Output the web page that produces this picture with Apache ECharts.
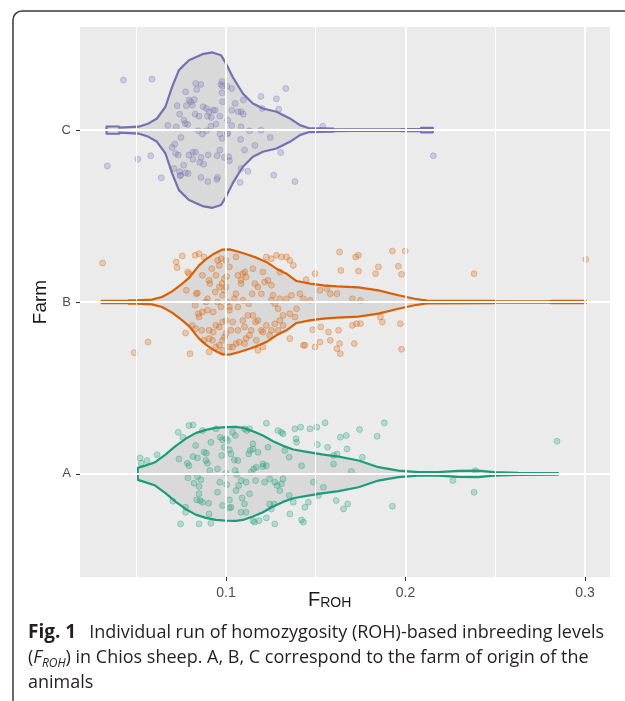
<!DOCTYPE html>
<html>
<head>
<meta charset="utf-8">
<script src="https://cdn.jsdelivr.net/npm/echarts@6/dist/echarts.min.js"></script>
<style>
  html, body { margin: 0; padding: 0; background: #fff; }
  #chart { width: 625px; height: 701px; }
</style>
</head>
<body>
<div id="chart"></div>
<script>
// farms on the y axis (A = 1, B = 2, C = 3)
const farms = ["A", "B", "C"];
const farmColors = ["#1B9E77", "#D95F02", "#7570B3"];
const xTicks = [0.1, 0.2, 0.3];
const xMinorTicks = [0.05, 0.15, 0.25];

// violin outlines: F_ROH value and half width (in farm units)
const aOutlineFroh = [0.0509, 0.0550, 0.0606, 0.0663, 0.0719, 0.0775, 0.0831, 0.0888, 0.0944, 0.1000, 0.1056, 0.1094, 0.1150, 0.1206, 0.1262, 0.1318, 0.1375, 0.1450, 0.1543, 0.1627, 0.1738, 0.1849, 0.1960, 0.2071, 0.2182, 0.2293, 0.2404, 0.2493, 0.2627, 0.2849];
const aOutlineHalf = [0.035, 0.048, 0.068, 0.112, 0.161, 0.204, 0.237, 0.256, 0.268, 0.272, 0.273, 0.268, 0.248, 0.223, 0.190, 0.163, 0.142, 0.128, 0.112, 0.100, 0.078, 0.039, 0.019, 0.010, 0.010, 0.017, 0.019, 0.010, 0.006, 0.005];

const bOutlineFroh = [0.0307, 0.0457, 0.0458, 0.0504, 0.0588, 0.0644, 0.0700, 0.0757, 0.0794, 0.0850, 0.0888, 0.0934, 0.0981, 0.1019, 0.1075, 0.1131, 0.1169, 0.1225, 0.1281, 0.1337, 0.1393, 0.1468, 0.1543, 0.1618, 0.1738, 0.1849, 0.1960, 0.2050, 0.2120, 0.2500, 0.2510, 0.2800, 0.2810, 0.3004];
const bOutlineHalf = [0.006, 0.006, 0.010, 0.010, 0.014, 0.029, 0.062, 0.107, 0.140, 0.213, 0.248, 0.281, 0.305, 0.306, 0.291, 0.272, 0.258, 0.233, 0.194, 0.165, 0.122, 0.107, 0.097, 0.091, 0.085, 0.068, 0.039, 0.019, 0.008, 0.006, 0.004, 0.004, 0.006, 0.006];

const cOutlineFroh = [0.0335, 0.0405, 0.0406, 0.0513, 0.0569, 0.0616, 0.0663, 0.0700, 0.0738, 0.0794, 0.0869, 0.0925, 0.0972, 0.1000, 0.1037, 0.1094, 0.1150, 0.1206, 0.1281, 0.1356, 0.1412, 0.1459, 0.1599, 0.1600, 0.1712, 0.1713, 0.1974, 0.1975, 0.2086, 0.2087, 0.2152];
const cOutlineHalf = [0.021, 0.021, 0.014, 0.020, 0.039, 0.068, 0.136, 0.252, 0.349, 0.407, 0.442, 0.452, 0.436, 0.388, 0.310, 0.213, 0.155, 0.126, 0.107, 0.068, 0.029, 0.012, 0.009, 0.006, 0.005, 0.004, 0.004, 0.006, 0.006, 0.013, 0.013];

// jittered animals: [F_ROH, vertical jitter]
const farmAPoints = [
  [0.0522, 0.093], [0.0528, 0.062], [0.0560, 0.078], [0.0616, 0.111], [0.0704, -0.159], [0.0734, 0.242], [0.0760, 0.213],
  [0.0738, 0.087], [0.0775, -0.194], [0.0775, -0.223], [0.0747, -0.291], [0.0785, 0.062], [0.0794, 0.048], [0.0794, 0.281],
  [0.0816, 0.285], [0.0816, 0.101], [0.0831, 0.165], [0.0841, 0.093], [0.0788, -0.023], [0.0822, -0.054], [0.0841, -0.016],
  [0.0850, -0.074], [0.0860, -0.035], [0.0850, -0.116], [0.0837, -0.151], [0.0856, -0.155], [0.0869, -0.165], [0.0878, 0.126],
  [0.0891, 0.120], [0.0888, 0.078], [0.0897, 0.062], [0.0869, 0.252], [0.0910, 0.019], [0.0906, -0.233], [0.0916, -0.287],
  [0.0850, -0.291], [0.0903, -0.171], [0.0916, 0.184], [0.0944, 0.262], [0.0953, 0.029], [0.0953, -0.107], [0.0966, -0.048],
  [0.0968, 0.213], [0.0976, 0.107], [0.0981, 0.198], [0.0991, 0.155], [0.1000, 0.204], [0.1009, 0.194], [0.1019, 0.140],
  [0.1037, 0.242], [0.1052, 0.223], [0.1028, 0.116], [0.1047, 0.081], [0.1066, 0.078], [0.1060, -0.004], [0.1004, -0.062],
  [0.1019, -0.151], [0.0981, -0.184], [0.1019, -0.198], [0.1028, -0.194], [0.1056, -0.097], [0.1071, -0.068], [0.1084, -0.039],
  [0.1112, -0.048], [0.1131, -0.116], [0.1090, -0.140], [0.1103, -0.175], [0.1084, -0.223], [0.1112, -0.223], [0.1116, 0.252],
  [0.1131, 0.262], [0.1135, 0.136], [0.1127, 0.116], [0.1150, 0.175], [0.1150, 0.145], [0.1140, 0.010], [0.1154, 0.029],
  [0.1169, 0.039], [0.1206, 0.043], [0.1225, 0.048], [0.1234, 0.155], [0.1165, -0.039], [0.1215, -0.048], [0.1243, -0.029],
  [0.1272, -0.048], [0.1285, -0.068], [0.1309, -0.058], [0.1318, -0.029], [0.1300, -0.097], [0.1253, -0.204], [0.1243, -0.175],
  [0.1150, -0.272], [0.1159, -0.281], [0.1184, -0.272], [0.1225, -0.256], [0.1272, -0.291], [0.1356, -0.233], [0.1375, -0.165],
  [0.1352, -0.126], [0.1318, 0.233], [0.1328, 0.136], [0.1384, 0.262], [0.1416, 0.272], [0.1390, 0.204], [0.1393, 0.184],
  [0.1352, 0.097], [0.1421, 0.048], [0.1468, 0.262], [0.1506, 0.272], [0.1552, 0.297], [0.1509, 0.171], [0.1566, 0.155],
  [0.1599, 0.107], [0.1618, 0.116], [0.1637, 0.213], [0.1670, 0.223], [0.1674, 0.145], [0.1599, 0.058], [0.1543, -0.078],
  [0.1487, -0.048], [0.1459, -0.165], [0.1440, -0.194], [0.1515, -0.126], [0.1614, -0.155], [0.1655, -0.204], [0.1678, -0.175],
  [0.1421, -0.268], [0.1431, -0.281], [0.1268, -0.175], [0.1225, 0.295], [0.1290, 0.252], [0.1309, 0.242], [0.1103, 0.262],
  [0.1178, 0.126], [0.1206, 0.058], [0.1051, 0.019], [0.1000, 0.004],
  [0.1744, 0.258], [0.1842, 0.219], [0.1882, 0.297], [0.1927, -0.188], [0.1760, 0.097], [0.1698, 0.014], [0.2264, -0.039],
  [0.2382, -0.107], [0.2844, 0.190], [0.2389, 0.019]
];

const farmBPoints = [
  [0.0313, 0.227], [0.0489, -0.295], [0.0566, -0.233], [0.0723, 0.233], [0.0728, 0.200], [0.0757, 0.268], [0.0794, 0.165],
  [0.0787, 0.175], [0.0779, 0.068], [0.0775, -0.180], [0.0800, -0.301], [0.0828, 0.272], [0.0850, 0.281], [0.0878, 0.262],
  [0.0869, 0.155], [0.0841, 0.052], [0.0835, 0.048], [0.0828, -0.019], [0.0846, -0.068], [0.0865, -0.165], [0.0869, -0.058],
  [0.0888, 0.000], [0.0897, 0.019], [0.0878, -0.223], [0.0906, 0.126], [0.0910, 0.107], [0.0921, 0.194], [0.0953, 0.242],
  [0.0963, 0.213], [0.0972, 0.252], [0.0940, 0.058], [0.0953, 0.000], [0.0978, 0.107], [0.0981, 0.039], [0.0991, 0.068],
  [0.1000, 0.087], [0.1004, 0.149], [0.1000, 0.242], [0.1019, 0.204], [0.1056, 0.262], [0.1066, 0.155], [0.1084, 0.126],
  [0.1094, 0.165], [0.1105, 0.175], [0.1112, 0.145], [0.1084, 0.107], [0.1056, 0.048], [0.1009, 0.000], [0.1019, -0.048],
  [0.1047, 0.019], [0.1066, -0.029], [0.1094, 0.010], [0.1127, -0.010], [0.1146, 0.048], [0.1150, 0.194], [0.1161, 0.107],
  [0.1178, 0.087], [0.1197, 0.048], [0.1215, 0.116], [0.1234, 0.126], [0.1206, 0.175], [0.1225, 0.262], [0.1253, 0.252],
  [0.1281, 0.272], [0.1309, 0.262], [0.1337, 0.262], [0.1356, 0.242], [0.1375, 0.213], [0.1300, 0.175], [0.1253, 0.097],
  [0.1262, 0.039], [0.1253, 0.010], [0.1272, -0.010], [0.1300, 0.019], [0.1337, 0.019], [0.1365, 0.039], [0.1412, 0.048],
  [0.1431, 0.019], [0.1468, 0.010], [0.1496, 0.165], [0.1446, 0.130], [0.1524, 0.068], [0.1562, 0.078], [0.1581, 0.048],
  [0.1618, 0.048], [0.1633, 0.291], [0.1640, 0.184], [0.1393, -0.039], [0.1356, -0.068], [0.1318, -0.078], [0.1300, -0.107],
  [0.1272, -0.126], [0.1253, -0.165], [0.1206, -0.175], [0.1178, -0.107], [0.1165, -0.116], [0.1150, -0.078], [0.1122, -0.078],
  [0.1094, -0.107], [0.1066, -0.165], [0.1037, -0.116], [0.1028, -0.165], [0.1000, -0.107], [0.0981, -0.116], [0.0963, -0.145],
  [0.0944, -0.136], [0.0929, -0.175], [0.0906, -0.165], [0.0906, -0.213], [0.0925, -0.223], [0.0944, -0.262], [0.0963, -0.252],
  [0.0981, -0.223], [0.0991, -0.204], [0.1000, -0.184], [0.1037, -0.262], [0.1075, -0.233], [0.1103, -0.242], [0.1112, -0.213],
  [0.1131, -0.194], [0.1169, -0.223], [0.1178, -0.281], [0.1206, -0.262], [0.1243, -0.194], [0.1290, -0.165], [0.1318, -0.136],
  [0.1356, -0.213], [0.1384, -0.087], [0.1440, -0.252], [0.1431, -0.252], [0.1483, -0.161], [0.1496, -0.262], [0.1524, -0.233],
  [0.1528, -0.145], [0.1571, -0.175], [0.1581, -0.223], [0.1618, -0.272], [0.1627, -0.165], [0.1637, -0.301], [0.1633, -0.242],
  [0.0906, -0.291], [0.0981, -0.281], [0.1019, -0.262], [0.1056, -0.242], [0.0831, -0.155], [0.0813, -0.136], [0.0850, -0.087],
  [0.1103, -0.145], [0.1140, -0.165], [0.1197, -0.165], [0.1225, -0.136], [0.1290, -0.039], [0.0897, -0.048], [0.0929, -0.058],
  [0.0972, -0.029], [0.1019, -0.029], [0.0944, 0.155], [0.0991, 0.136], [0.0963, 0.087],
  [0.1722, 0.262], [0.1738, 0.272], [0.1738, 0.180], [0.1833, 0.165], [0.1849, 0.204], [0.1927, 0.297], [0.1960, 0.208],
  [0.1978, 0.161], [0.1998, 0.297], [0.2382, 0.165], [0.3004, 0.248], [0.1704, 0.019], [0.1749, 0.010], [0.1727, -0.126],
  [0.1749, -0.126], [0.1860, -0.087], [0.1871, -0.116], [0.1971, -0.126], [0.1978, -0.275], [0.1715, -0.242], [0.1704, -0.136]
];

const farmCPoints = [
  [0.0429, 0.291], [0.0588, 0.297], [0.0339, -0.209], [0.0509, -0.169], [0.0581, -0.149], [0.0640, -0.277], [0.0676, 0.027],
  [0.0700, -0.101], [0.0715, -0.081], [0.0723, 0.019], [0.0728, 0.142], [0.0742, 0.093], [0.0749, -0.043], [0.0719, -0.136],
  [0.0710, -0.223], [0.0742, -0.242], [0.0747, -0.262], [0.0764, -0.204], [0.0775, 0.223], [0.0766, 0.058], [0.0773, 0.039],
  [0.0787, 0.033], [0.0794, 0.175], [0.0779, 0.142], [0.0803, 0.165], [0.0813, 0.145], [0.0824, 0.178], [0.0828, 0.093],
  [0.0831, 0.272], [0.0837, 0.237], [0.0860, 0.266], [0.0850, 0.081], [0.0846, -0.004], [0.0869, -0.023], [0.0873, 0.136],
  [0.0891, 0.126], [0.0897, 0.081], [0.0906, 0.107], [0.0918, 0.074], [0.0929, 0.116], [0.0940, 0.116], [0.0916, 0.023],
  [0.0891, -0.004], [0.0794, -0.145], [0.0816, -0.128], [0.0831, -0.128], [0.0816, -0.169], [0.0861, -0.159], [0.0876, -0.198],
  [0.0854, -0.188], [0.0861, -0.275], [0.0899, -0.299], [0.0901, -0.144], [0.0944, 0.035], [0.0951, -0.149], [0.0966, -0.116],
  [0.0966, -0.023], [0.0978, -0.048], [0.0966, 0.081], [0.0978, 0.283], [0.0972, 0.266], [0.0981, 0.256], [0.1006, 0.256],
  [0.1032, 0.242], [0.0978, 0.217], [0.0981, 0.165], [0.1051, 0.155], [0.1097, 0.175], [0.1032, 0.116], [0.1067, 0.107],
  [0.1084, 0.107], [0.1096, 0.093], [0.1009, 0.058], [0.1032, 0.027], [0.1084, 0.019], [0.1131, -0.004], [0.1009, -0.016],
  [0.1008, -0.023], [0.1082, -0.054], [0.1103, -0.116], [0.0991, -0.159], [0.1015, -0.155], [0.1019, -0.178], [0.0953, -0.275],
  [0.0949, -0.287], [0.1084, -0.223], [0.1122, -0.239], [0.1079, -0.304], [0.1161, -0.089], [0.1195, 0.000], [0.1195, 0.196],
  [0.1202, 0.126], [0.1247, -0.043], [0.1281, 0.182], [0.1294, 0.122], [0.1333, 0.242], [0.1305, -0.130], [0.1266, -0.262],
  [0.1384, -0.299], [0.1539, 0.023], [0.2155, -0.149], [0.0775, -0.248], [0.0745, -0.266], [0.0734, -0.145], [0.0790, -0.252]
];

const outlines = [
  [aOutlineFroh, aOutlineHalf],
  [bOutlineFroh, bOutlineHalf],
  [cOutlineFroh, cOutlineHalf]
];
const farmPoints = [farmAPoints, farmBPoints, farmCPoints];

function rgba(hex, a) {
  const n = parseInt(hex.slice(1), 16);
  return "rgba(" + (n >> 16) + "," + ((n >> 8) & 255) + "," + (n & 255) + "," + a + ")";
}

const chart = echarts.init(document.getElementById("chart"), null, { renderer: "canvas" });

const gridLines = [];
xMinorTicks.forEach(function (v) {
  gridLines.push({ xAxis: v, lineStyle: { width: 1 } });
});
xTicks.forEach(function (v) {
  gridLines.push({ xAxis: v, lineStyle: { width: 1.8 } });
});
farms.forEach(function (f, i) {
  gridLines.push({ yAxis: i + 1, lineStyle: { width: 1.8 } });
});

const series = [
  {
    type: "scatter",
    data: [],
    z: 1,
    silent: true,
    markLine: {
      silent: true,
      symbol: ["none", "none"],
      label: { show: false },
      lineStyle: { color: "#ffffff", type: "solid" },
      data: gridLines
    }
  },
  {
    type: "custom",
    z: 2,
    silent: true,
    data: [[0.1, 1], [0.1, 2], [0.1, 3]],
    renderItem: function (params, api) {
      const i = params.dataIndex;
      const froh = outlines[i][0];
      const half = outlines[i][1];
      const pts = [];
      for (let k = 0; k < froh.length; k++) {
        pts.push(api.coord([froh[k], i + 1 + half[k]]));
      }
      for (let k = froh.length - 1; k >= 0; k--) {
        pts.push(api.coord([froh[k], i + 1 - half[k]]));
      }
      return {
        type: "polygon",
        shape: { points: pts },
        style: { fill: "#d9d9d9", stroke: farmColors[i], lineWidth: 2.2, lineJoin: "round" }
      };
    }
  }
];

farmPoints.forEach(function (pts, i) {
  series.push({
    type: "scatter",
    z: 3,
    silent: true,
    symbol: "circle",
    symbolSize: 6,
    itemStyle: {
      color: rgba(farmColors[i], 0.32),
      borderColor: rgba(farmColors[i], 0.4),
      borderWidth: 1
    },
    data: pts.map(function (p) { return [p[0], i + 1 + p[1]]; })
  });
});

chart.setOption({
  animation: false,
  backgroundColor: "#ffffff",
  grid: {
    left: 80,
    right: 15,
    top: 27,
    bottom: 124,
    show: true,
    backgroundColor: "#ebebeb",
    borderWidth: 0
  },
  xAxis: {
    type: "value",
    min: 0.0187,
    max: 0.3139,
    axisLine: { show: false },
    splitLine: { show: false },
    axisTick: { show: true, customValues: xTicks, length: 4, lineStyle: { color: "#333333", width: 1.1 } },
    axisLabel: {
      customValues: xTicks,
      margin: 9,
      color: "#4d4d4d",
      fontSize: 14,
      fontFamily: "Liberation Sans, Arial, sans-serif",
      formatter: function (v) { return v.toFixed(1); }
    }
  },
  yAxis: {
    type: "value",
    min: 0.4,
    max: 3.6,
    name: "Farm",
    nameLocation: "middle",
    nameGap: 17,
    nameRotate: 90,
    nameTextStyle: { color: "#1a1a1a", fontSize: 19, fontFamily: "Liberation Sans, Arial, sans-serif" },
    axisLine: { show: false },
    splitLine: { show: false },
    axisTick: { show: true, customValues: [1, 2, 3], length: 4, lineStyle: { color: "#333333", width: 1.1 } },
    axisLabel: {
      customValues: [1, 2, 3],
      margin: 9,
      color: "#4d4d4d",
      fontSize: 13,
      fontFamily: "Liberation Sans, Arial, sans-serif",
      formatter: function (v) { return farms[Math.round(v) - 1]; }
    }
  },
  graphic: [
    {
      type: "rect",
      silent: true,
      shape: { x: 13, y: 11, width: 720, height: 760, r: [9, 0, 0, 0] },
      style: { fill: "none", stroke: "#3a3a3a", lineWidth: 1.5 }
    },
    {
      type: "text",
      silent: true,
      x: 308,
      y: 590,
      style: {
        text: "{f|F}{s|ROH}",
        fill: "#1a1a1a",
        fontFamily: "Liberation Sans, Arial, sans-serif",
        rich: {
          f: { fontSize: 20, lineHeight: 20, verticalAlign: "bottom", fill: "#1a1a1a" },
          s: { fontSize: 14, lineHeight: 14, verticalAlign: "bottom", fill: "#1a1a1a" }
        }
      }
    },
    {
      type: "text",
      silent: true,
      x: 28,
      y: 620,
      style: {
        text: "{b|Fig. 1}{g| }Individual run of homozygosity (ROH)-based inbreeding levels\n({i|F}{s|ROH}) in Chios sheep. A, B, C correspond to the farm of origin of the\nanimals",
        fontFamily: "Open Sans, sans-serif",
        fontSize: 18,
        lineHeight: 25,
        fill: "#231f20",
        rich: {
          b: { fontFamily: "Open Sans, sans-serif", fontSize: 19, fontWeight: "bold", lineHeight: 25, fill: "#231f20" },
          g: { fontFamily: "Open Sans, sans-serif", fontSize: 18, lineHeight: 25, width: 13 },
          i: { fontFamily: "Open Sans, sans-serif", fontSize: 18, fontStyle: "italic", lineHeight: 25, fill: "#231f20" },
          s: { fontFamily: "Open Sans, sans-serif", fontSize: 12, fontStyle: "italic", lineHeight: 14, verticalAlign: "bottom", fill: "#231f20" }
        }
      }
    }
  ],
  series: series
});
</script>
</body>
</html>
